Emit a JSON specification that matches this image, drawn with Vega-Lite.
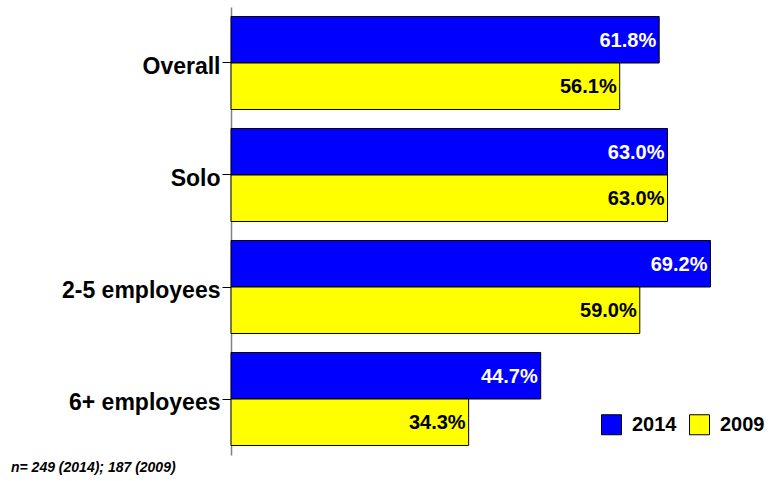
{
  "$schema": "https://vega.github.io/schema/vega-lite/v6.json",
  "width": 485,
  "height": 448,
  "autosize": "none",
  "padding": {"left": 231, "top": 7, "right": 57, "bottom": 26},
  "background": "white",
  "title": {
    "text": "n= 249 (2014); 187 (2009)",
    "orient": "bottom",
    "anchor": "start",
    "frame": "group",
    "dx": -220,
    "offset": 6,
    "font": "Liberation Sans",
    "fontSize": 14,
    "fontWeight": "bold",
    "fontStyle": "italic",
    "color": "black"
  },
  "data": {
    "values": [
      {"group": "Overall", "year": "2014", "value": 61.8, "label": "61.8%"},
      {"group": "Overall", "year": "2009", "value": 56.1, "label": "56.1%"},
      {"group": "Solo", "year": "2014", "value": 63.0, "label": "63.0%"},
      {"group": "Solo", "year": "2009", "value": 63.0, "label": "63.0%"},
      {"group": "2-5 employees", "year": "2014", "value": 69.2, "label": "69.2%"},
      {"group": "2-5 employees", "year": "2009", "value": 59.0, "label": "59.0%"},
      {"group": "6+ employees", "year": "2014", "value": 44.7, "label": "44.7%"},
      {"group": "6+ employees", "year": "2009", "value": 34.3, "label": "34.3%"}
    ]
  },
  "encoding": {
    "y": {
      "field": "group",
      "type": "nominal",
      "sort": ["Overall", "Solo", "2-5 employees", "6+ employees"],
      "scale": {"paddingInner": 0.17, "paddingOuter": 0.085},
      "axis": {
        "title": null,
        "domainColor": "#808080",
        "domainWidth": 1.5,
        "tickColor": "black",
        "tickSize": 9,
        "labelFont": "Liberation Sans",
        "labelFontSize": 23,
        "labelFontWeight": "bold",
        "labelColor": "black",
        "labelPadding": 2,
        "labelBaseline": "middle",
        "labelOffset": 4
      }
    },
    "yOffset": {
      "field": "year",
      "type": "nominal",
      "scale": {"domain": ["2014", "2009"]}
    },
    "x": {
      "field": "value",
      "type": "quantitative",
      "scale": {"domain": [0, 70], "nice": false},
      "axis": null
    }
  },
  "layer": [
    {
      "mark": {"type": "bar", "stroke": "black", "strokeWidth": 1},
      "encoding": {
        "color": {
          "field": "year",
          "type": "nominal",
          "scale": {"domain": ["2014", "2009"], "range": ["#0000FF", "#FFFF00"]},
          "legend": {
            "title": null,
            "orient": "none",
            "legendX": 370,
            "legendY": 407,
            "direction": "horizontal",
            "symbolType": "square",
            "symbolSize": 400,
            "symbolStrokeColor": "black",
            "symbolStrokeWidth": 1,
            "symbolOpacity": 1,
            "labelFont": "Liberation Sans",
            "labelFontSize": 20,
            "labelFontWeight": "bold",
            "labelColor": "black",
            "labelOffset": 10,
            "columnPadding": 10
          }
        }
      }
    },
    {
      "mark": {
        "type": "text",
        "align": "right",
        "baseline": "middle",
        "dx": -3,
        "dy": 1,
        "font": "Liberation Sans",
        "fontSize": 20,
        "fontWeight": "bold"
      },
      "encoding": {
        "text": {"field": "label"},
        "color": {
          "condition": {"test": "datum.year === '2014'", "value": "white"},
          "value": "black"
        }
      }
    }
  ],
  "config": {"view": {"stroke": null}}
}
